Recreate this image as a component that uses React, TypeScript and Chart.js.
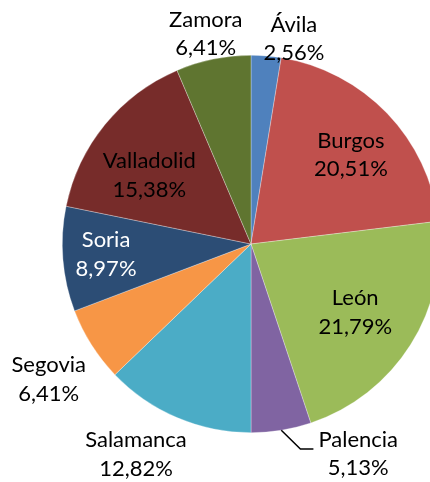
import React, { useEffect, useRef } from "react";
import { Chart, registerables } from "chart.js";

Chart.register(...registerables);

const provinces = ["Ávila", "Burgos", "León", "Palencia", "Salamanca", "Segovia", "Soria", "Valladolid", "Zamora"];
const percents = [2.56, 20.51, 21.79, 5.13, 12.82, 6.41, 8.97, 15.38, 6.41];
const percentLabels = ["2,56%", "20,51%", "21,79%", "5,13%", "12,82%", "6,41%", "8,97%", "15,38%", "6,41%"];
const colors = ["#4F81BD", "#C0504D", "#9BBB59", "#8064A2", "#4BACC6", "#F79646", "#2C4D75", "#772C2A", "#5F7530"];
const labelColors = ["#000", "#000", "#000", "#000", "#000", "#000", "#fff", "#000", "#000"];
// label placement: radius factor and angle offset in degrees
const labelRadius = [1.11, 0.71, 0.66, 1.25, 1.27, 1.29, 0.77, 0.65, 1.14];
const labelAngle = [7.2, 2.1, 0.9, -17.8, 5.6, -1.5, 0.6, -5.2, -0.6];
const leader = [false, false, false, true, false, false, false, false, false];

const FONT = "22px Lato, 'Open Sans', sans-serif";

const labelPlugin = {
  id: "pieLabels",
  afterDatasetsDraw(chart: any) {
    const ctx = chart.ctx;
    const meta = chart.getDatasetMeta(0);
    ctx.save();
    ctx.font = FONT;
    ctx.textAlign = "center";
    ctx.textBaseline = "middle";
    meta.data.forEach((arc: any, i: number) => {
      const { x, y, startAngle, endAngle, outerRadius } = arc.getProps(["x", "y", "startAngle", "endAngle", "outerRadius"], true);
      const mid = (startAngle + endAngle) / 2;
      const a = mid + (labelAngle[i] * Math.PI) / 180;
      const r = outerRadius * labelRadius[i];
      const cx = x + r * Math.cos(a);
      const cy = y + r * Math.sin(a);
      if (leader[i]) {
        const ex = x + outerRadius * Math.cos(mid);
        const ey = y + outerRadius * Math.sin(mid);
        const w = ctx.measureText(provinces[i]).width;
        const lx = cx - w / 2 - 5;
        const ly = cy - 5;
        ctx.strokeStyle = "#000";
        ctx.lineWidth = 1.5;
        ctx.beginPath();
        ctx.moveTo(ex, ey);
        ctx.lineTo(lx - 13, ly);
        ctx.lineTo(lx, ly);
        ctx.stroke();
      }
      ctx.fillStyle = labelColors[i];
      ctx.fillText(provinces[i], cx, cy - 14.25);
      ctx.fillText(percentLabels[i], cx, cy + 14.25);
    });
    ctx.restore();
  },
};

export default function App() {
  const ref = useRef<HTMLCanvasElement>(null);
  useEffect(() => {
    document.body.style.margin = "0";
    const chart = new Chart(ref.current!, {
      type: "pie",
      data: {
        labels: provinces,
        datasets: [
          {
            data: percents,
            backgroundColor: colors,
            borderWidth: 0.6,
            borderColor: "rgba(255,255,255,0.5)",
          },
        ],
      },
      options: {
        animation: false,
        responsive: false,
        layout: { padding: { left: 62, right: 60, top: 55, bottom: 49 } },
        plugins: { legend: { display: false }, tooltip: { enabled: false } },
      },
      plugins: [labelPlugin],
    });
    return () => chart.destroy();
  }, []);
  return (
    <div style={{ width: 430, height: 482, overflow: "hidden", position: "relative", background: "#fff" }}>
      <canvas ref={ref} width={500} height={482} style={{ position: "absolute", left: 0, top: 0 }} />
    </div>
  );
}
